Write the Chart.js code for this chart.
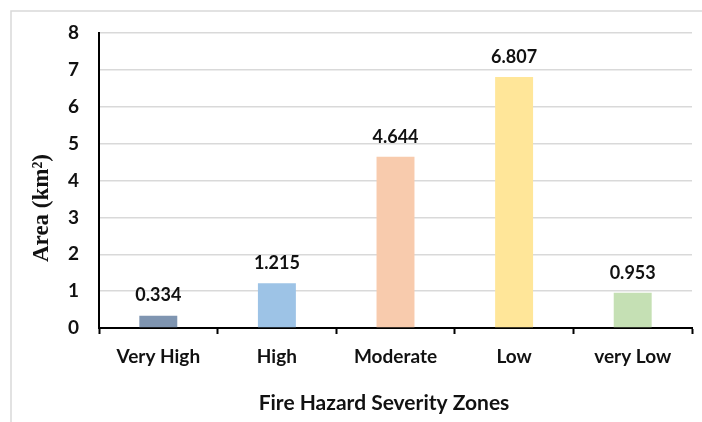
<!DOCTYPE html>
<html>
<head>
<meta charset="utf-8">
<script src="https://cdn.jsdelivr.net/npm/chart.js@4/dist/chart.umd.min.js"></script>
<style>
html,body{margin:0;padding:0;background:#fff;}
#wrap{position:relative;width:702px;height:422px;}
</style>
</head>
<body>
<div id="wrap"><canvas id="c" width="702" height="422"></canvas></div>
<script>
const categories = ["Very High", "High", "Moderate", "Low", "very Low"];
const areaValues = [0.334, 1.215, 4.644, 6.807, 0.953];
const valueLabels = ["0.334", "1.215", "4.644", "6.807", "0.953"];
const barColors = ["#7f95b1", "#9dc3e6", "#f8cbad", "#ffe699", "#c5e0b4"];
const yTitle = "Area (km²)";
const xTitle = "Fire Hazard Severity Zones";

const FONT = "Lato, 'Open Sans', sans-serif";

const decor = {
  id: "decor",
  beforeDraw(chart) {
    const ctx = chart.ctx;
    ctx.save();
    ctx.fillStyle = "#fff";
    ctx.fillRect(0, 0, chart.width, chart.height);
    ctx.strokeStyle = "#d9d9d9";
    ctx.lineWidth = 1.5;
    ctx.beginPath();
    ctx.moveTo(11, chart.height + 2);
    ctx.lineTo(11, 11);
    ctx.lineTo(chart.width + 2, 11);
    ctx.stroke();
    ctx.restore();
  },
  afterDraw(chart) {
    const ctx = chart.ctx;
    ctx.save();
    const meta = chart.getDatasetMeta(0);
    ctx.fillStyle = "#111";
    ctx.font = "bold 18px " + FONT;
    ctx.textAlign = "center";
    ctx.textBaseline = "middle";
    meta.data.forEach((bar, i) => {
      ctx.fillText(valueLabels[i], bar.x, bar.y - 20);
    });
    ctx.save();
    ctx.translate(42, 208);
    ctx.rotate(-Math.PI / 2);
    ctx.font = "bold 23px 'Liberation Serif', 'DejaVu Serif', serif";
    ctx.fillStyle = "#111";
    ctx.fillText(yTitle, 0, 0);
    ctx.restore();
    ctx.font = "bold 21px " + FONT;
    ctx.fillStyle = "#111";
    ctx.fillText(xTitle, 384, 403);
    ctx.restore();
  }
};

new Chart(document.getElementById("c"), {
  type: "bar",
  data: {
    labels: categories,
    datasets: [{
      data: areaValues,
      backgroundColor: barColors,
      borderWidth: 0,
      barPercentage: 0.32,
      categoryPercentage: 1
    }]
  },
  options: {
    responsive: false,
    animation: false,
    devicePixelRatio: 1,
    layout: { padding: { top: 33, right: 10, left: 0, bottom: 0 } },
    plugins: { legend: { display: false }, tooltip: { enabled: false } },
    scales: {
      x: {
        grid: {
          display: true,
          drawOnChartArea: false,
          offset: true,
          tickLength: 6,
          tickColor: "#000",
          tickWidth: 2
        },
        border: { color: "#000", width: 2 },
        ticks: {
          color: "#111",
          font: { family: FONT, size: 19, weight: "bold" },
          padding: 11,
          maxRotation: 0
        },
        afterFit(scale) { scale.height = 94; }
      },
      y: {
        min: 0,
        max: 8,
        ticks: {
          stepSize: 1,
          color: "#111",
          font: { family: FONT, size: 19, weight: "bold" },
          padding: 8
        },
        grid: {
          color: "#d9d9d9",
          lineWidth: 1.5,
          tickLength: 12,
          tickColor: "rgba(0,0,0,0)"
        },
        border: { color: "#000", width: 2 },
        afterFit(scale) { scale.width = 99; }
      }
    }
  },
  plugins: [decor]
});
</script>
</body>
</html>
